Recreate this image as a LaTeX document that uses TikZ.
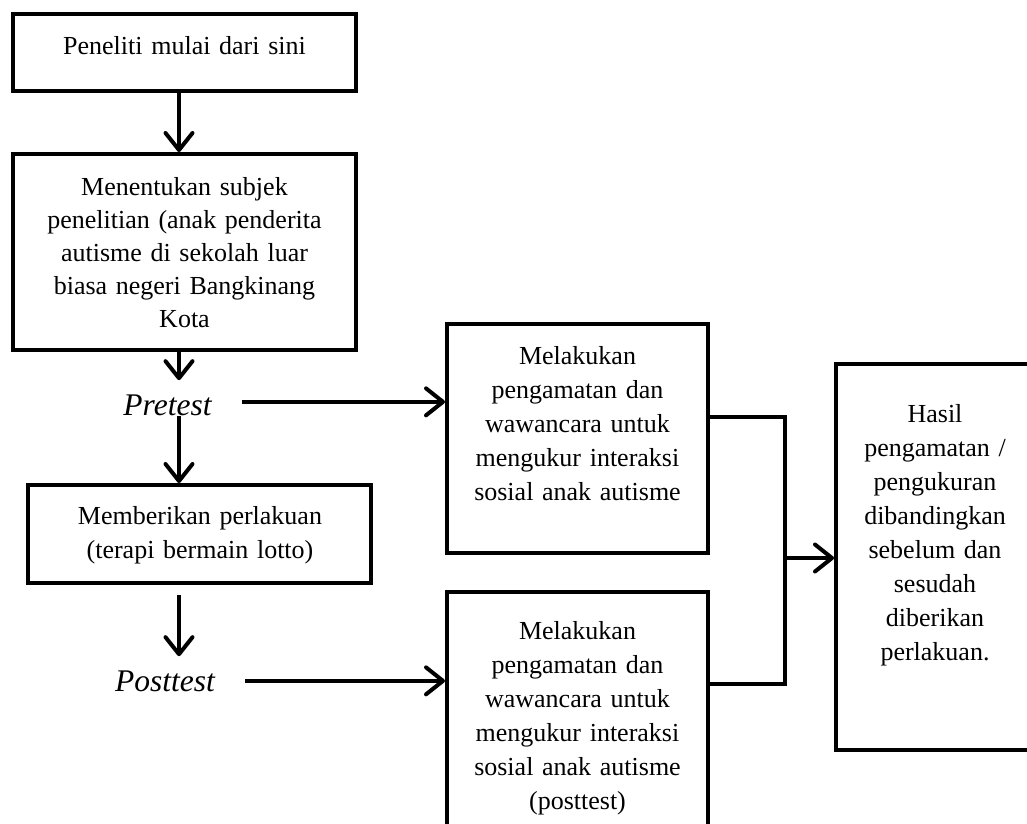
\documentclass[tikz,border=0pt]{standalone}
\usepackage{fontspec}
\setmainfont{Liberation Serif}
\usetikzlibrary{arrows.meta}
\begin{document}
\begin{tikzpicture}[x=1pt,y=-1pt,
  box/.style={draw, line width=4pt, rectangle, inner sep=0pt},
  txt/.style={font=\fontsize{26}{34}\selectfont, align=center, inner sep=0pt, text width=#1, anchor=base},
  lbl/.style={font=\fontsize{31.5}{36}\selectfont\itshape, inner sep=0pt, anchor=base},
  arr/.style={line width=4pt, -{Straight Barb[length=17pt,width=27pt,round]}},
  ln/.style={line width=4pt, line join=miter}]
\path[use as bounding box] (0,0) rectangle (1027,823);
\clip (0,0) rectangle (1027,823);
% boxes
\node[box, minimum width=343pt, minimum height=77pt] (b1) at (184.5,52.5) {};
\node[box, minimum width=343pt, minimum height=196pt] (b2) at (184.5,252) {};
\node[box, minimum width=343pt, minimum height=98pt] (b3) at (199.5,534) {};
\node[box, minimum width=261pt, minimum height=229pt] (b4) at (577.5,438.5) {};
\node[box, minimum width=261pt, minimum height=258pt] (b5) at (577.5,721) {};
\node[box, minimum width=220pt, minimum height=386pt] (b6) at (946,557) {};
% texts
\node[txt=330pt] (t1) at (184.5,54) {Peneliti mulai dari sini};
\node[txt=330pt, font=\fontsize{26}{33}\selectfont] (t2) at (184.5,195) {Menentukan subjek\\penelitian (anak penderita\\autisme di sekolah luar\\biasa negeri Bangkinang\\Kota};
\node[txt=330pt] (t3) at (200,524) {Memberikan perlakuan\\(terapi bermain lotto)};
\node[txt=250pt] (t4) at (577.5,364.5) {Melakukan\\pengamatan dan\\wawancara untuk\\mengukur interaksi\\sosial anak autisme};
\node[txt=250pt] (t5) at (577.5,639) {Melakukan\\pengamatan dan\\wawancara untuk\\mengukur interaksi\\sosial anak autisme\\(posttest)};
\node[txt=190pt] (t6) at (935,422) {Hasil\\pengamatan /\\pengukuran\\dibandingkan\\sebelum dan\\sesudah\\diberikan\\perlakuan.};
\node[lbl] (pre) at (167.5,415) {Pretest};
\node[lbl] (post) at (165,691) {Posttest};
% helper coordinates
\coordinate (ax) at (179,0);
\coordinate (pa) at ([yshift=3pt]pre.east);
\coordinate (j1) at (785,417);
\coordinate (j2) at (785,684);
\coordinate (jm) at (785,558);
% connectors
\draw[arr] (b1.south -| ax) -- (b2.north -| ax);
\draw[arr, shorten >=14pt] (b2.south -| ax) -- (pre.north -| ax);
\draw[arr] (pre.south -| ax) -- (b3.north -| ax);
\draw[arr, shorten <=10pt, shorten >=14pt] (b3.south -| ax) -- (post.north -| ax);
\draw[arr, shorten <=30pt] (pa) -- (b4.west |- pa);
\draw[arr, shorten <=30pt] (post.east) -- (b5.west |- post.east);
\draw[ln] (b4.east |- j1) -- (j1) -- (j2) -- (b5.east |- j2);
\draw[arr] (jm) -- (b6.west |- jm);
\end{tikzpicture}
\end{document}
